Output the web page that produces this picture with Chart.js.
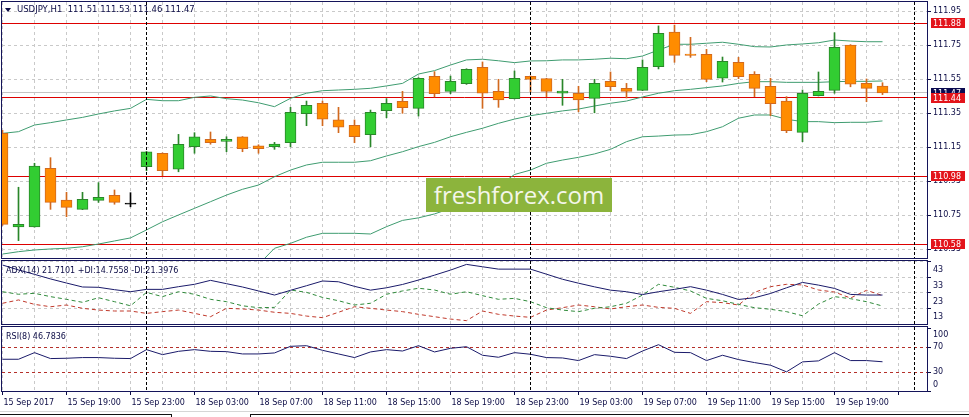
<!DOCTYPE html>
<html><head><meta charset="utf-8">
<script src="https://cdn.jsdelivr.net/npm/chart.js@4.4.1/dist/chart.umd.min.js"></script>
<style>
html,body{margin:0;padding:0;background:#fff;}
#stage{position:relative;width:969px;height:417px;overflow:hidden;background:#fff;}
#stage canvas{position:absolute;left:0;}
.t{position:absolute;white-space:pre;font-family:"DejaVu Sans",sans-serif;font-size:8px;line-height:10px;color:#0b0b45;}
.tri{position:absolute;left:5px;top:8px;width:0;height:0;border-left:3px solid transparent;border-right:3px solid transparent;border-top:4px solid #0b0b45;}
.wm{position:absolute;left:426px;top:178px;width:186px;height:34px;background:#8cb43c;color:#f4f6ea;font-family:"Open Sans",sans-serif;font-size:24px;line-height:33px;text-align:center;}
.ln{position:absolute;}
</style></head><body>
<div id="stage">
<canvas id="cMain" width="969" height="260" style="top:0px"></canvas>
<canvas id="cAdx" width="969" height="67" style="top:259px"></canvas>
<canvas id="cRsi" width="969" height="92" style="top:325px"></canvas>
<div class="tri"></div>
<div class="t" id="hdr" style="left:17px;top:4px;font-size:8.5px"></div>
<div class="t" id="adxLbl" style="left:6px;top:266px"></div>
<div class="t" id="rsiLbl" style="left:6px;top:332px"></div>
<div class="wm">freshforex.com</div>
<div class="ln" style="left:0;top:411px;width:969px;height:1px;background:#d6d6d6"></div>
<div class="ln" style="left:0;top:414px;width:172px;height:1px;background:#111"></div>
<div class="ln" style="left:171px;top:414px;width:1px;height:3px;background:#111"></div>
<div class="ln" style="left:250px;top:414px;width:1px;height:3px;background:#111"></div>
<div class="ln" style="left:250px;top:414px;width:719px;height:1px;background:#111"></div>
</div>
<script>
// ---------------- data ----------------
const symbol = 'USDJPY,H1';
const timeLabels = ['15 Sep 2017','15 Sep 19:00','15 Sep 23:00','18 Sep 03:00','18 Sep 07:00','18 Sep 11:00','18 Sep 15:00','18 Sep 19:00','18 Sep 23:00','19 Sep 03:00','19 Sep 07:00','19 Sep 11:00','19 Sep 15:00','19 Sep 19:00'];
const barsPerLabel = 4;

const open  = [111.232,110.682,110.682,111.026,110.840,110.785,110.838,110.868,110.816,111.036,
               111.115,111.022,111.153,111.197,111.185,111.211,111.159,111.153,111.177,111.348,
               111.409,111.311,111.279,111.224,111.365,111.421,111.379,111.568,111.479,111.524,
               111.621,111.479,111.436,111.568,111.554,111.469,111.468,111.438,111.538,111.497,
               111.485,111.624,111.828,111.699,111.697,111.556,111.650,111.579,111.509,111.422,
               111.238,111.454,111.485,111.752,111.526,111.51];
const high  = [111.250,110.915,111.056,111.089,110.885,110.885,110.942,110.899,110.883,111.126,
               111.117,111.226,111.236,111.240,111.212,111.213,111.165,111.179,111.385,111.422,
               111.422,111.385,111.311,111.369,111.436,111.479,111.560,111.595,111.569,111.612,
               111.652,111.550,111.599,111.570,111.556,111.550,111.509,111.550,111.593,111.526,
               111.664,111.864,111.869,111.797,111.726,111.681,111.679,111.595,111.556,111.448,
               111.487,111.593,111.824,111.754,111.552,111.53];
const low   = [110.690,110.601,110.680,110.785,110.742,110.783,110.826,110.815,110.800,111.012,
               110.983,111.006,111.115,111.168,111.124,111.124,111.115,111.138,111.153,111.277,
               111.277,111.236,111.177,111.153,111.324,111.350,111.334,111.446,111.465,111.520,
               111.379,111.385,111.434,111.477,111.448,111.397,111.359,111.353,111.483,111.440,
               111.483,111.611,111.650,111.679,111.536,111.534,111.554,111.448,111.336,111.236,
               111.183,111.452,111.468,111.506,111.418,111.46];
const close = [110.697,110.697,111.040,110.826,110.797,110.844,110.856,110.826,110.816,111.124,
               111.012,111.168,111.211,111.177,111.197,111.142,111.142,111.169,111.356,111.397,
               111.315,111.268,111.212,111.356,111.409,111.383,111.556,111.465,111.538,111.609,
               111.468,111.428,111.556,111.550,111.479,111.481,111.428,111.526,111.506,111.479,
               111.621,111.821,111.691,111.691,111.550,111.656,111.565,111.497,111.406,111.248,
               111.468,111.479,111.738,111.521,111.497,111.47];

const bbUpper  = [111.232,111.242,111.281,111.295,111.311,111.326,111.346,111.364,111.379,111.432,
                  111.424,111.424,111.444,111.452,111.436,111.428,111.412,111.389,111.438,111.468,
                  111.483,111.487,111.491,111.497,111.511,111.526,111.581,111.601,111.634,111.664,
                  111.668,111.659,111.648,111.658,111.659,111.664,111.664,111.668,111.674,111.671,
                  111.687,111.722,111.756,111.756,111.762,111.768,111.756,111.742,111.740,111.752,
                  111.758,111.765,111.781,111.775,111.771,111.771];
const bbMiddle = [110.522,110.536,110.546,110.552,110.556,110.565,110.581,110.599,110.617,110.664,
                  110.712,110.752,110.791,110.830,110.869,110.903,110.928,110.977,111.016,111.046,
                  111.062,111.062,111.062,111.071,111.099,111.124,111.154,111.179,111.212,111.238,
                  111.262,111.291,111.316,111.336,111.350,111.364,111.375,111.393,111.409,111.422,
                  111.446,111.468,111.483,111.491,111.501,111.511,111.526,111.536,111.536,111.532,
                  111.532,111.532,111.536,111.538,111.538,111.540];
const bbLower  = [109.81,109.83,109.81,109.81,109.80,109.80,109.82,109.83,109.86,109.90,
                  110.00,110.08,110.14,110.21,110.30,110.38,110.46,110.556,110.585,110.621,
                  110.644,110.644,110.644,110.640,110.683,110.720,110.735,110.758,110.790,110.813,
                  110.855,110.922,110.990,111.016,111.056,111.075,111.091,111.111,111.138,111.183,
                  111.212,111.216,111.222,111.224,111.242,111.271,111.321,111.340,111.340,111.315,
                  111.301,111.301,111.295,111.297,111.297,111.305];

const adx     = [40.7,37.6,34.8,31.9,29.3,26.8,26.6,25.1,23.8,25.3,
                 25.3,27.0,28.5,31.0,28.9,26.8,24.3,21.7,24.7,27.6,
                 30.6,30.1,27.2,24.8,26.3,28.4,31.2,34.3,37.5,41.1,
                 39.6,38.1,38.1,38.1,34.9,31.7,29.2,26.9,24.8,23.8,
                 22.0,23.8,25.3,27.0,24.8,22.1,18.9,20.0,22.7,26.3,
                 29.7,28.0,25.9,22.1,21.7,21.71];
const plusDI  = [23.8,22.2,22.8,20.7,19.0,17.1,20.0,17.5,14.9,23.4,
                 20.7,23.8,22.2,19.0,17.5,14.9,13.7,13.9,24.9,23.4,
                 20.2,18.1,15.4,16.5,22.2,24.3,26.0,24.9,22.2,23.8,
                 21.3,19.0,19.6,17.5,13.7,12.2,11.2,13.3,14.3,16.5,
                 21.7,28.5,26.6,24.3,19.6,18.1,15.8,13.7,12.7,11.2,
                 8.6,16.0,20.7,19.4,17.5,14.76];
const minusDI = [16.5,18.6,15.8,14.3,15.4,13.3,12.2,11.6,11.6,10.1,
                 11.2,12.2,10.1,8.0,13.3,12.9,12.2,10.8,10.1,8.4,
                 7.4,10.8,14.3,13.3,12.2,11.2,9.5,8.0,6.5,5.5,
                 11.6,9.5,8.4,7.6,12.2,13.7,15.4,14.3,12.9,14.3,
                 15.4,13.9,13.3,10.1,17.5,16.9,15.4,23.4,27.0,28.5,
                 28.1,24.9,23.6,19.8,24.7,21.40];
const rsi     = [50.8,50.8,61.4,51.9,52.4,53.5,53.5,52.4,51.9,66.2,
                 58.2,63.5,66.2,63.5,63.0,59.3,59.3,60.9,71.5,72.5,
                 65.1,59.3,53.5,62.5,66.2,64.0,72.5,62.5,68.3,70.9,
                 57.2,54.0,61.4,58.8,53.5,52.9,48.7,58.2,55.6,51.9,
                 64.0,74.1,61.9,61.4,48.7,57.2,50.3,45.5,41.3,30.7,
                 46.6,48.2,61.4,48.7,48.7,46.78];

const priceTicks = [110.55,110.75,110.95,111.15,111.35,111.55,111.75,111.95];
const adxTicks = [13,23,33,43];
const rsiTicks = [0,30,70,100];
const rsiLevels = [70,30];
const levelLines = [111.88,111.44,110.98,110.58];
const bidPrice = 111.47;
const separators = [9,33,57];
const adxLegend = 'ADX(14) 21.7101 +DI:14.7558 -DI:21.3976';
const rsiLegend = 'RSI(8) 46.7836';

// ---------------- styling ----------------
const NAVY = '#0b0b45';
const FRAME = '#14145a';
const GRID = '#c9c9c9';
const BAND = '#3f9c70';
const RED = '#dd0000';
const FONT = 'DejaVu Sans';
const BULL_FILL = '#32cd32', BULL_EDGE = '#2a862a';
const BEAR_FILL = '#ff8c00', BEAR_EDGE = '#d2691e';
const DOJI = '#000000';
const X_MIN = -0.03125, X_MAX = 57.78125;

Chart.defaults.font.family = FONT;
Chart.defaults.font.size = 8;

const N = open.length;
const idx = open.map((_, i) => i);
const xy = arr => arr.map((v, i) => ({x: i, y: v}));
const kind = i => close[i] > open[i] ? 1 : (close[i] < open[i] ? -1 : 0);
const edgeCol = idx.map(i => kind(i) > 0 ? BULL_EDGE : kind(i) < 0 ? BEAR_EDGE : DOJI);
const fillCol = idx.map(i => kind(i) > 0 ? BULL_FILL : kind(i) < 0 ? BEAR_FILL : DOJI);

document.getElementById('hdr').textContent =
  symbol + '  ' + [open[N-1], high[N-1], low[N-1], close[N-1]].map(v => v.toFixed(2)).join(' ');
document.getElementById('adxLbl').textContent = adxLegend;
document.getElementById('rsiLbl').textContent = rsiLegend;

const gridIdx = [];
for (let v = 0; v <= X_MAX; v += 2) gridIdx.push(v);

const zeroPad = s => { s.paddingLeft = 0; s.paddingRight = 0; s.paddingTop = 0; s.paddingBottom = 0; };

function xGrid(extra) {
  return Object.assign({
    type: 'linear', min: X_MIN, max: X_MAX, bounds: 'data', offset: false,
    afterBuildTicks: s => { s.ticks = gridIdx.map(v => ({value: v})); },
    ticks: {display: false},
    grid: {color: GRID, drawTicks: false, lineWidth: 1, offset: false},
    border: {display: false, dash: [3, 3]},
    afterFit: s => { s.height = 0; zeroPad(s); }
  }, extra || {});
}
function yAxis(min, max, ticks, extra) {
  const base = {
    position: 'right', min: min, max: max, bounds: 'data', beginAtZero: false,
    afterBuildTicks: s => { s.ticks = ticks.map(v => ({value: v})); },
    afterFit: s => { s.width = 42; zeroPad(s); },
    ticks: {color: NAVY, padding: 2, autoSkip: false, font: {family: FONT, size: 8}},
    grid: {color: GRID, tickColor: NAVY, tickLength: 4, tickBorderDash: [1, 0]},
    border: {display: false, dash: [3, 3]}
  };
  if (extra) {
    if (extra.ticks) Object.assign(base.ticks, extra.ticks);
    if (extra.grid) Object.assign(base.grid, extra.grid);
  }
  return base;
}

const panelDeco = {
  id: 'panelDeco',
  beforeDatasetsDraw(chart, _a, o) {
    const {ctx, chartArea: a} = chart; const ys = chart.scales.y;
    ctx.save();
    ctx.beginPath(); ctx.rect(a.left, a.top, a.right - a.left, a.bottom - a.top); ctx.clip();
    for (const h of (o.hLines || [])) {
      const py = Math.round(ys.getPixelForValue(h.value) - 0.5) + 0.5;
      ctx.setLineDash(h.dash || []); ctx.lineWidth = 1; ctx.strokeStyle = h.color;
      ctx.beginPath(); ctx.moveTo(a.left, py); ctx.lineTo(a.right, py); ctx.stroke();
    }
    ctx.restore();
  },
  afterDatasetsDraw(chart) {
    const {ctx, chartArea: a} = chart; const xs = chart.scales.x;
    ctx.save();
    ctx.setLineDash([3, 2]); ctx.strokeStyle = '#000'; ctx.lineWidth = 1;
    for (const s of separators) {
      const px = Math.round(xs.getPixelForValue(s) - 0.5) + 0.5;
      ctx.beginPath(); ctx.moveTo(px, a.top); ctx.lineTo(px, a.bottom); ctx.stroke();
    }
    ctx.restore();
  },
  afterDraw(chart, _a, o) {
    const {ctx, chartArea: a} = chart; const ys = chart.scales.y;
    ctx.save();
    ctx.setLineDash([]); ctx.strokeStyle = FRAME; ctx.lineWidth = 1;
    ctx.strokeRect(a.left - 0.5, a.top - 0.5, a.right - a.left + 1, a.bottom - a.top + 1);
    ctx.font = '8px "' + FONT + '"'; ctx.textBaseline = 'middle'; ctx.textAlign = 'left';
    for (const b of (o.boxes || [])) {
      const py = Math.round(ys.getPixelForValue(b.value));
      ctx.fillStyle = b.fill; ctx.fillRect(a.right + 4, py - 5, 34, 10);
      ctx.fillStyle = '#ffffff'; ctx.fillText(b.value.toFixed(2), a.right + 6, py + 0.5);
    }
    ctx.restore();
  }
};

const common = {
  type: 'line',
  plugins: [panelDeco]
};
const baseOpts = {
  responsive: false, animation: false, events: [],
  plugins: {legend: {display: false}, tooltip: {enabled: false}}
};
const lineDs = (label, data, color, dash, order) => ({
  type: 'line', label: label, data: xy(data), borderColor: color, borderWidth: 1,
  borderDash: dash || [], pointRadius: 0, pointHoverRadius: 0, tension: 0, order: order || 3
});

// ---------------- main price chart ----------------
const pY = {min: 110.4988, max: 112.0047};
new Chart(document.getElementById('cMain'), Object.assign({}, common, {
  data: {datasets: [
    lineDs('BB upper', bbUpper, BAND),
    lineDs('BB middle', bbMiddle, BAND),
    lineDs('BB lower', bbLower, BAND),
    {type: 'bar', label: 'wick', data: idx.map(i => ({x: i, y: [low[i], high[i]]})),
     backgroundColor: edgeCol, borderWidth: 0, barThickness: 1, grouped: false, order: 2},
    {type: 'bar', label: 'body', data: idx.map(i => ({x: i, y: [open[i], close[i]]})),
     backgroundColor: fillCol, borderColor: edgeCol, borderWidth: 1, borderSkipped: false,
     barThickness: 11, minBarLength: 1, grouped: false, order: 1}
  ]},
  options: Object.assign({}, baseOpts, {
    layout: {padding: {left: 2, top: 2, right: 0, bottom: 2}},
    plugins: Object.assign({}, baseOpts.plugins, {panelDeco: {
      hLines: [{value: bidPrice, color: '#c4c4c4'}].concat(levelLines.map(v => ({value: v, color: RED}))),
      boxes: [{value: bidPrice, fill: '#0a0a50'}].concat(levelLines.map(v => ({value: v, fill: '#e3141b'})))
    }}),
    scales: {
      x: xGrid(),
      y: yAxis(pY.min, pY.max, priceTicks, {ticks: {callback: v => v.toFixed(2)}})
    }
  })
}));

// ---------------- ADX panel ----------------
new Chart(document.getElementById('cAdx'), Object.assign({}, common, {
  data: {datasets: [
    lineDs('ADX', adx, '#1a1a6a', [], 1),
    lineDs('+DI', plusDI, '#2f8a3a', [4, 3], 2),
    lineDs('-DI', minusDI, '#c0392b', [4, 3], 2)
  ]},
  options: Object.assign({}, baseOpts, {
    layout: {padding: {left: 2, top: 2, right: 0, bottom: 2}},
    plugins: Object.assign({}, baseOpts.plugins, {panelDeco: {}}),
    scales: {
      x: xGrid(),
      y: yAxis(3.38, 43.25, adxTicks, {ticks: {labelOffset: 8.5, callback: v => String(v)}})
    }
  })
}));

// ---------------- RSI panel + time axis ----------------
new Chart(document.getElementById('cRsi'), Object.assign({}, common, {
  data: {datasets: [
    lineDs('RSI', rsi, '#1a1a6a', [], 1)
  ]},
  options: Object.assign({}, baseOpts, {
    layout: {padding: {left: 2, top: 2, right: 0, bottom: 0}},
    plugins: Object.assign({}, baseOpts.plugins, {panelDeco: {
      hLines: rsiLevels.map(v => ({value: v, color: '#b5302a', dash: [3, 3]}))
    }}),
    scales: {
      x: xGrid({
        ticks: {display: true, autoSkip: false, maxRotation: 0, minRotation: 0, align: 'start',
                labelOffset: 1, padding: 3, color: NAVY, font: {family: FONT, size: 8},
                callback: v => (v % barsPerLabel === 0 && timeLabels[v / barsPerLabel]) ? timeLabels[v / barsPerLabel] : ''},
        grid: {color: GRID, drawTicks: true, tickLength: 4, tickBorderDash: [1, 0], offset: false,
               tickColor: c => (c.tick && c.tick.value % barsPerLabel === 0) ? NAVY : 'rgba(0,0,0,0)'},
        afterFit: s => { s.height = 26; zeroPad(s); }
      }),
      y: yAxis(0, 102.4, rsiTicks, {
        ticks: {font: {family: FONT, size: 8, lineHeight: 1.5},
                callback: v => v === 100 ? ['', '100'] : (v === 0 ? ['0', ''] : String(v))},
        grid: {drawOnChartArea: false}
      })
    }
  })
}));
</script>
</body></html>
